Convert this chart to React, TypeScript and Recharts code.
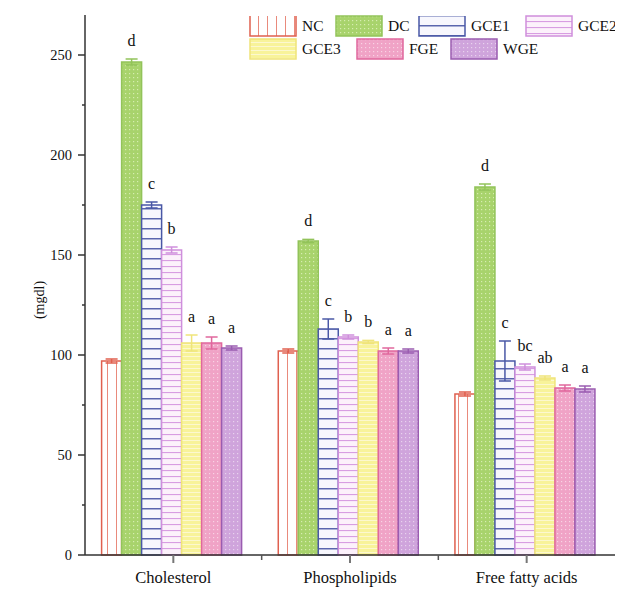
import { BarChart, Bar, XAxis, YAxis, ErrorBar, LabelList, Legend } from 'recharts'

const categories = ['Cholesterol', 'Phospholipids', 'Free fatty acids']

const nc = [97, 102, 80.5]
const dc = [246.5, 157, 184]
const gce1 = [175, 113, 97]
const gce2 = [152.5, 109, 94]
const gce3 = [106, 106.5, 88.5]
const fge = [106, 102, 83.5]
const wge = [103.5, 102, 83]

const ncErr = [1, 1, 1]
const dcErr = [1.5, 0.8, 1.5]
const gce1Err = [1.5, 5, 10]
const gce2Err = [1.5, 1, 1.5]
const gce3Err = [4, 0.8, 1]
const fgeErr = [3, 1.5, 1.5]
const wgeErr = [1, 1, 1.5]

const ncLetters = ['', '', '']
const dcLetters = ['d', 'd', 'd']
const gce1Letters = ['c', 'c', 'c']
const gce2Letters = ['b', 'b', 'bc']
const gce3Letters = ['a', 'b', 'ab']
const fgeLetters = ['a', 'a', 'a']
const wgeLetters = ['a', 'a', 'a']

const yTicks = [0, 25, 50, 75, 100, 125, 150, 175, 200, 225, 250]

const serif = '"Liberation Serif", "Times New Roman", serif'

const series = [
  { key: 'NC', values: nc, err: ncErr, letters: ncLetters, fill: 'url(#pNC)', stroke: '#e0604f', open: true },
  { key: 'DC', values: dc, err: dcErr, letters: dcLetters, fill: 'url(#pDC)', stroke: '#92c35a' },
  { key: 'GCE1', values: gce1, err: gce1Err, letters: gce1Letters, fill: 'url(#pG1)', stroke: '#4a58a6', open: true },
  { key: 'GCE2', values: gce2, err: gce2Err, letters: gce2Letters, fill: 'url(#pG2)', stroke: '#cf8fdc' },
  { key: 'GCE3', values: gce3, err: gce3Err, letters: gce3Letters, fill: 'url(#pG3)', stroke: '#efe47a' },
  { key: 'FGE', values: fge, err: fgeErr, letters: fgeLetters, fill: 'url(#pFGE)', stroke: '#e0679d' },
  { key: 'WGE', values: wge, err: wgeErr, letters: wgeLetters, fill: 'url(#pWGE)', stroke: '#9a5cb0' },
]

const data = categories.map((name, i) => {
  const row: Record<string, any> = { name }
  series.forEach((s) => {
    row[s.key] = s.values[i]
    row[s.key + 'Err'] = s.err[i]
    row[s.key + 'Lab'] = s.letters[i]
  })
  return row
})

const Patterns = () => (
  <svg width={0} height={0} style={{ position: 'absolute' }}>
    <defs>
      <pattern id="pNC" width={9} height={10} patternUnits="userSpaceOnUse">
        <rect width={9} height={10} fill="#fff" />
        <line x1={0.5} y1={0} x2={0.5} y2={10} stroke="#e98a7c" strokeWidth={1} />
      </pattern>
      <pattern id="pDC" width={4} height={4} patternUnits="userSpaceOnUse">
        <rect width={4} height={4} fill="#a8d36c" />
        <rect x={1} y={1} width={1.2} height={1.2} fill="#d6edb0" />
      </pattern>
      <pattern id="pG1" width={10} height={10} patternUnits="userSpaceOnUse">
        <rect width={10} height={10} fill="#f7f7fd" />
        <line x1={0} y1={0.75} x2={10} y2={0.75} stroke="#5a66ae" strokeWidth={1.5} />
      </pattern>
      <pattern id="pG2" width={10} height={6} patternUnits="userSpaceOnUse">
        <rect width={10} height={6} fill="#fcf1fb" />
        <line x1={0} y1={0.5} x2={10} y2={0.5} stroke="#d89de2" strokeWidth={1.2} />
      </pattern>
      <pattern id="pG3" width={10} height={4} patternUnits="userSpaceOnUse">
        <rect width={10} height={4} fill="#f8f39a" />
        <line x1={0} y1={0.5} x2={10} y2={0.5} stroke="#fcf8cf" strokeWidth={1} />
      </pattern>
      <pattern id="pFGE" width={4} height={4} patternUnits="userSpaceOnUse">
        <rect width={4} height={4} fill="#f0a3c6" />
        <rect x={1} y={1} width={1.2} height={1.2} fill="#f9d3e4" />
      </pattern>
      <pattern id="pWGE" width={4} height={4} patternUnits="userSpaceOnUse">
        <rect width={4} height={4} fill="#cfa4dc" />
        <rect x={1} y={1} width={1.2} height={1.2} fill="#e8d2ee" />
      </pattern>
    </defs>
  </svg>
)

const makeLetter = (s: any) => (props: any) => {
  const { x, y, width, height, value, index } = props
  if (!value) return null
  const v = s.values[index]
  const errPx = v ? (s.err[index] * height) / v : 0
  return (
    <text x={x + width / 2} y={y - errPx - 13} textAnchor="middle" fontSize={16} fontFamily={serif} fill="#111">
      {value}
    </text>
  )
}

const YTick = (props: any) => {
  const { x, y, payload } = props
  const major = payload.value % 50 === 0
  return (
    <g>
      <line x1={x} y1={y} x2={x - (major ? 7 : 3)} y2={y} stroke="#333" strokeWidth={1.5} />
      {major && (
        <text x={x - 13} y={y + 5} textAnchor="end" fontSize={14.5} fontFamily={serif} fill="#111">
          {payload.value}
        </text>
      )}
    </g>
  )
}

const XTick = (props: any) => {
  const { x, y, payload, index } = props
  const half = payload.offset || 88
  return (
    <g>
      <line x1={x} y1={y} x2={x} y2={y + 8} stroke="#777" strokeWidth={2} />
      {index < 2 && <line x1={x + half} y1={y} x2={x + half} y2={y + 5} stroke="#555" strokeWidth={1.5} />}
      <text x={x} y={y + 28} textAnchor="middle" fontSize={16.5} fontFamily={serif} fill="#111">
        {payload.value}
      </text>
    </g>
  )
}

const Swatch = ({ s }: { s: any }) => (
  <svg width={48} height={22} style={{ display: 'block' }}>
    <rect x={1} y={1} width={46} height={20} fill={s.fill} />
    {s.open ? (
      <path d="M1,1 L1,21 L47,21 L47,1" fill="none" stroke={s.stroke} strokeWidth={1.5} />
    ) : (
      <rect x={1} y={1} width={46} height={20} fill="none" stroke={s.stroke} strokeWidth={1.5} />
    )}
  </svg>
)

// legend item placement (left offset within the legend box, row)
const legendSlots = [
  { key: 'NC', left: 0, row: 0 },
  { key: 'DC', left: 86, row: 0 },
  { key: 'GCE1', left: 169, row: 0 },
  { key: 'GCE2', left: 276, row: 0 },
  { key: 'GCE3', left: 0, row: 1 },
  { key: 'FGE', left: 107, row: 1 },
  { key: 'WGE', left: 201, row: 1 },
]

const LegendBox = () => (
  <div style={{ position: 'relative', height: 48, fontFamily: serif, fontSize: 15.5, color: '#111' }}>
    {legendSlots.map((it) => {
      const s = series.find((q) => q.key === it.key)
      return (
        <div
          key={it.key}
          style={{
            position: 'absolute',
            left: it.left,
            top: it.row * 23,
            display: 'flex',
            alignItems: 'center',
            whiteSpace: 'nowrap',
          }}
        >
          <Swatch s={s} />
          <span style={{ marginLeft: 5 }}>{it.key}</span>
        </div>
      )
    })}
  </div>
)

export default function App() {
  return (
    <div style={{ position: 'relative', width: 615, height: 582 }}>
      <Patterns />
      <BarChart
        width={615}
        height={582}
        data={data}
        margin={{ top: 7, right: 8, left: 0, bottom: 5 }}
        barCategoryGap="9.4%"
        barGap={0}
      >
        <XAxis
          dataKey="name"
          height={30}
          tick={<XTick />}
          tickLine={false}
          tickSize={0}
          tickMargin={0}
          axisLine={{ stroke: '#333', strokeWidth: 1.5 }}
          interval={0}
        />
        <YAxis
          width={77}
          domain={[0, 270]}
          ticks={yTicks}
          tick={<YTick />}
          tickLine={false}
          tickSize={0}
          tickMargin={0}
          axisLine={{ stroke: '#333', strokeWidth: 1.5 }}
          interval={0}
          label={{
            content: ({ viewBox }: any) => (
              <text
                x={viewBox.x + 36}
                y={viewBox.y + viewBox.height / 2 + 15}
                transform={`rotate(-90, ${viewBox.x + 36}, ${viewBox.y + viewBox.height / 2 + 15})`}
                textAnchor="middle"
                fontSize={14}
                fontFamily={serif}
                fill="#111"
              >
                (mgdl)
              </text>
            ),
          }}
        />
        <Legend
          layout="horizontal"
          verticalAlign="middle"
          align="center"
          content={() => <LegendBox />}
          wrapperStyle={{ top: 7, left: 241, width: 374 }}
        />
        {series.map((s) => (
          <Bar
            key={s.key}
            dataKey={s.key}
            fill={s.fill}
            stroke={s.stroke}
            strokeWidth={1.5}
            isAnimationActive={false}
          >
            <ErrorBar dataKey={s.key + 'Err'} width={6} stroke={s.stroke} strokeWidth={1.5} />
            <LabelList dataKey={s.key + 'Lab'} content={makeLetter(s)} />
          </Bar>
        ))}
      </BarChart>
    </div>
  )
}
